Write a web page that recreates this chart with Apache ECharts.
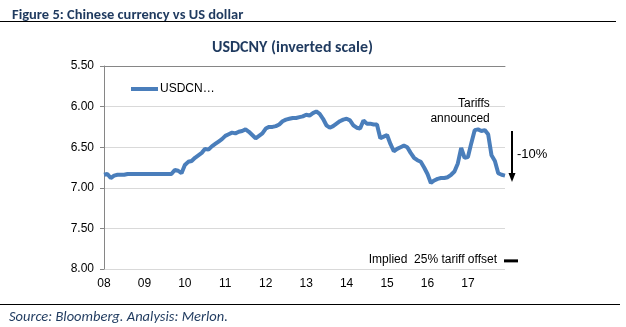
<!DOCTYPE html>
<html>
<head>
<meta charset="utf-8">
<script src="https://cdn.jsdelivr.net/npm/echarts@6/dist/echarts.min.js"></script>
<style>
  html, body { margin: 0; padding: 0; background: #fff; }
  #chart { width: 626px; height: 327px; }
</style>
</head>
<body>
<div id="chart"></div>
<script>
// Monthly USDCNY fixes, Sep 2008 – Aug 2018
const startYear = 2008;
const startMonth = 9;
const monthCount = 120;

const usdcny = [
  6.84, 6.83, 6.88, 6.85, 6.84, 6.84, 6.84, 6.83, 6.83, 6.83,
  6.83, 6.83, 6.83, 6.83, 6.83, 6.83, 6.83, 6.83, 6.83, 6.83,
  6.83, 6.78, 6.79, 6.82, 6.72, 6.68, 6.67, 6.63, 6.60, 6.57,
  6.52, 6.53, 6.49, 6.46, 6.43, 6.40, 6.36, 6.34, 6.32, 6.33,
  6.31, 6.30, 6.28, 6.31, 6.35, 6.39, 6.36, 6.33, 6.27, 6.25,
  6.25, 6.24, 6.22, 6.18, 6.16, 6.15, 6.14, 6.14, 6.13, 6.12,
  6.10, 6.11, 6.08, 6.06, 6.09, 6.15, 6.23, 6.26, 6.24, 6.21,
  6.18, 6.16, 6.15, 6.17, 6.23, 6.26, 6.27, 6.17, 6.21, 6.21,
  6.22, 6.22, 6.39, 6.37, 6.35, 6.46, 6.55, 6.52, 6.50, 6.48,
  6.50, 6.57, 6.63, 6.66, 6.68, 6.75, 6.83, 6.94, 6.91, 6.89,
  6.88, 6.88, 6.87, 6.84, 6.80, 6.70, 6.51, 6.63, 6.62, 6.45,
  6.29, 6.28, 6.30, 6.29, 6.34, 6.60, 6.67, 6.82, 6.84, 6.85
];

// One label per year, shown every 12 months from the first month
const yearLabels = ['08', '09', '10', '11', '12', '13', '14', '15', '16', '17'];

// Annotation values
const tariffPoint = [113, 6.29];     // where "Tariffs announced" sits
const moveFrom = 6.30;               // strongest level before the tariffs
const moveTo = 6.93;                 // 10% weaker
const moveLabel = '-10%';
const tariffOffset = 7.90;           // level implied by a 25% tariff offset
const offsetLabel = 'Implied  25% tariff offset';

const months = [];
for (let i = 0; i < monthCount; i++) {
  const m = startMonth - 1 + i;
  const y = startYear + Math.floor(m / 12);
  months.push(y + '-' + String((m % 12) + 1).padStart(2, '0'));
}
const lastIdx = monthCount - 1;

const sans = '"Liberation Sans", Arial, sans-serif';
const titleFont = 'Carlito, "Liberation Sans Narrow", "Open Sans", sans-serif';
const navy = '#1f3a5f';

const chart = echarts.init(document.getElementById('chart'), null, { renderer: 'canvas' });

chart.setOption({
  animation: false,
  backgroundColor: '#fff',
  title: [
    {
      text: 'Figure 5: Chinese currency vs US dollar',
      left: 7, top: 3,
      textStyle: { fontFamily: titleFont, fontSize: 14.5, fontWeight: 'bold', color: navy }
    },
    {
      text: 'USDCNY (inverted scale)',
      left: 207, top: 35,
      textStyle: { fontFamily: titleFont, fontSize: 16, fontWeight: 'bold', color: navy }
    },
    {
      text: 'Source: Bloomberg. Analysis: Merlon.',
      left: 4, top: 305,
      textStyle: { fontFamily: titleFont, fontSize: 14.5, fontStyle: 'italic', fontWeight: 'normal', color: navy }
    }
  ],
  graphic: [
    { type: 'line', shape: { x1: 0, y1: 21.5, x2: 616, y2: 21.5 }, style: { stroke: '#000', lineWidth: 1 } },
    { type: 'line', shape: { x1: 0, y1: 304.5, x2: 620, y2: 304.5 }, style: { stroke: '#000', lineWidth: 1 } }
  ],
  legend: {
    data: ['USDCNY'],
    left: 126, top: 78,
    icon: 'rect',
    itemWidth: 27, itemHeight: 4,
    formatter: () => 'USDCN…',
    textStyle: { fontFamily: sans, fontSize: 12, color: '#000', padding: [0, 0, 0, -3] }
  },
  grid: { left: 104, right: 121, top: 66, bottom: 58 },
  xAxis: [
    {
      type: 'category',
      data: months,
      boundaryGap: false,
      position: 'bottom',
      axisLine: { show: false },
      axisTick: { show: false },
      axisLabel: {
        interval: (i) => i % 12 === 0,
        formatter: (v, i) => yearLabels[i / 12],
        margin: 9,
        fontFamily: sans, fontSize: 12, color: '#000'
      }
    },
    {
      type: 'category',
      data: months,
      boundaryGap: false,
      position: 'top',
      axisLine: { show: true, lineStyle: { color: '#868686', width: 1 } },
      axisTick: { show: false },
      axisLabel: { show: false }
    }
  ],
  yAxis: {
    type: 'value',
    inverse: true,
    min: 5.5, max: 8, interval: 0.5,
    axisLine: { show: true, lineStyle: { color: '#868686', width: 1 } },
    axisTick: { show: true, length: 4, lineStyle: { color: '#868686' } },
    axisLabel: {
      formatter: (v) => v.toFixed(2),
      margin: 10,
      fontFamily: sans, fontSize: 12, color: '#000'
    },
    splitLine: { show: true, lineStyle: { color: '#d9d9d9', width: 1 } }
  },
  series: [
    {
      name: 'USDCNY',
      type: 'line',
      data: usdcny,
      showSymbol: false,
      symbol: 'none',
      lineStyle: { color: '#4a7ebb', width: 4 },
      itemStyle: { color: '#4a7ebb' },
      z: 3
    },
    {
      // "Tariffs announced" note above the 2018 high
      type: 'custom',
      data: [tariffPoint],
      silent: true,
      renderItem: (params, api) => {
        const p = api.coord([api.value(0), api.value(1)]);
        return {
          type: 'text',
          x: p[0] + 5, y: p[1] - 4,
          style: {
            text: 'Tariffs\nannounced',
            align: 'right', verticalAlign: 'bottom',
            lineHeight: 15,
            fontFamily: sans, fontSize: 12, fill: '#000'
          }
        };
      }
    },
    {
      // Arrow showing the 10% move since the high
      type: 'custom',
      data: [[lastIdx, moveFrom, moveTo]],
      silent: true,
      renderItem: (params, api) => {
        const top = api.coord([api.value(0), api.value(1)]);
        const bot = api.coord([api.value(0), api.value(2)]);
        const x = top[0] + 7;
        const head = 9;
        return {
          type: 'group',
          children: [
            { type: 'line', shape: { x1: x, y1: top[1], x2: x, y2: bot[1] - head + 1 }, style: { stroke: '#000', lineWidth: 2 } },
            { type: 'polygon', shape: { points: [[x - 3.5, bot[1] - head], [x + 3.5, bot[1] - head], [x, bot[1]]] }, style: { fill: '#000' } },
            {
              type: 'text', x: x + 5, y: (top[1] + bot[1]) / 2 - 2,
              style: { text: moveLabel, align: 'left', verticalAlign: 'middle', fontFamily: sans, fontSize: 13, fill: '#000' }
            }
          ]
        };
      }
    },
    {
      // Level implied by a 25% tariff offset
      type: 'custom',
      data: [[lastIdx, tariffOffset]],
      silent: true,
      renderItem: (params, api) => {
        const p = api.coord([api.value(0), api.value(1)]);
        return {
          type: 'group',
          children: [
            { type: 'rect', shape: { x: p[0] - 1, y: p[1] - 1.5, width: 14, height: 3 }, style: { fill: '#000' } },
            {
              type: 'text', x: p[0] - 8, y: p[1] - 1,
              style: { text: offsetLabel, align: 'right', verticalAlign: 'middle', fontFamily: sans, fontSize: 12, fill: '#000' }
            }
          ]
        };
      }
    }
  ]
});
</script>
</body>
</html>
